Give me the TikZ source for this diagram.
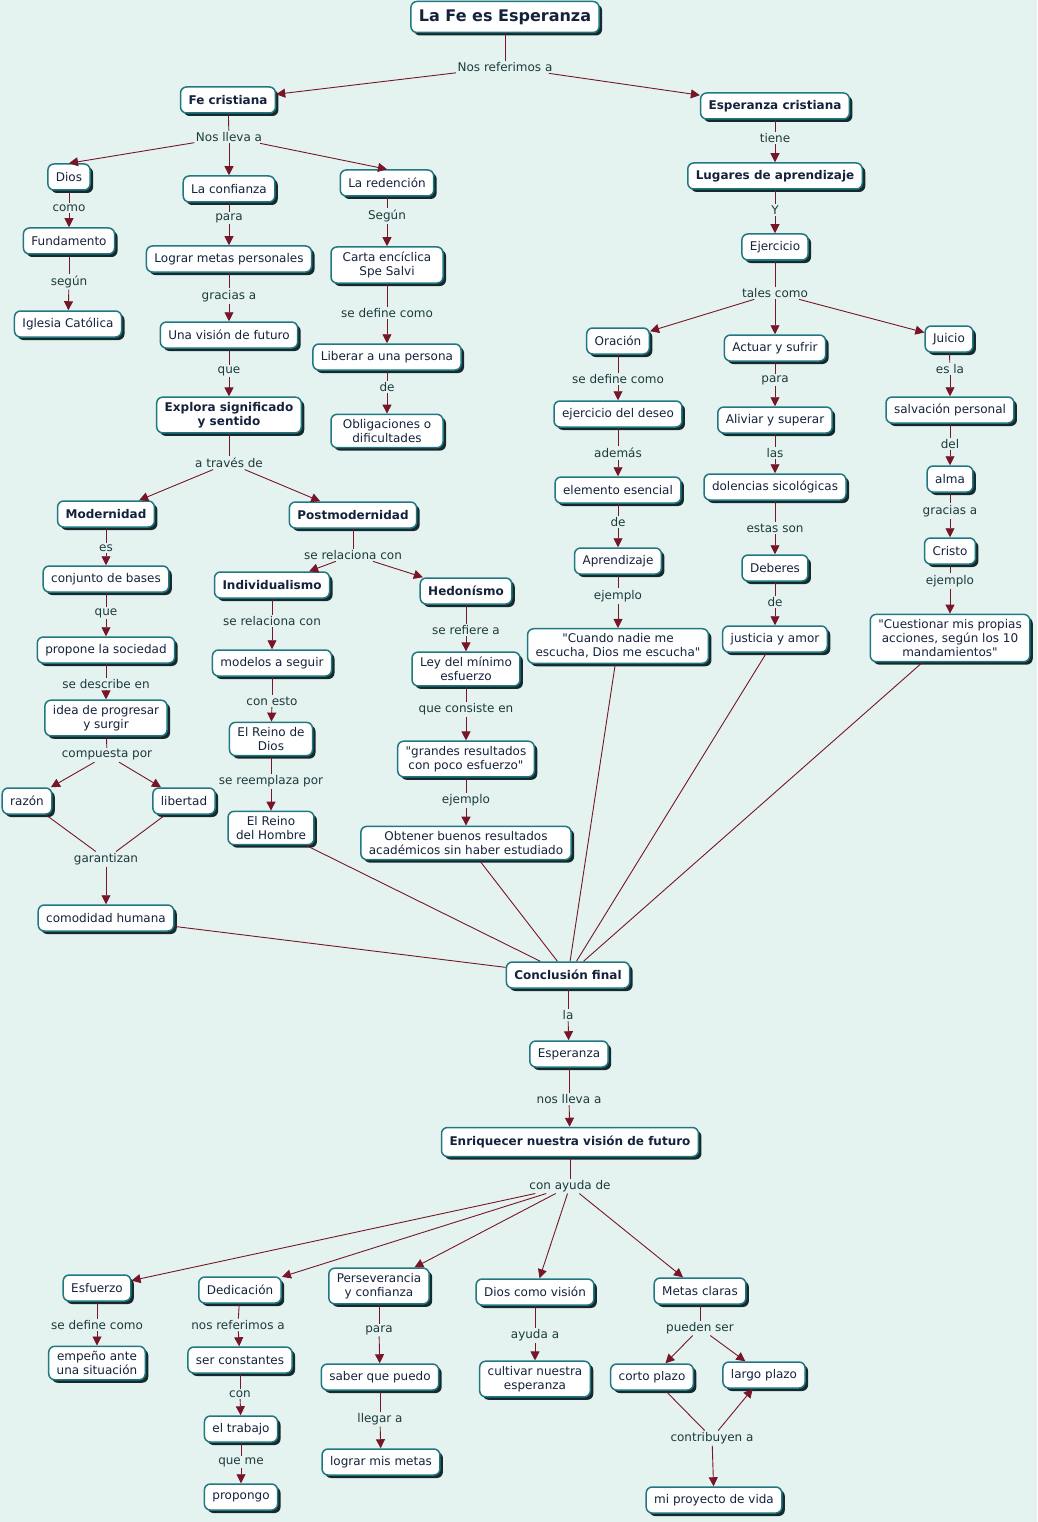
\documentclass[tikz,border=0pt]{standalone}
\usepackage{fontspec}
\setmainfont{DejaVu Sans}
\usetikzlibrary{arrows.meta,shadows}
\definecolor{bgc}{RGB}{229,243,240}
\definecolor{bordc}{RGB}{32,120,128}
\definecolor{shadc}{RGB}{22,42,46}
\definecolor{arrc}{RGB}{118,22,40}
\definecolor{txtc}{RGB}{20,34,60}
\definecolor{labc}{RGB}{28,58,60}
\font\plainq="DejaVu Sans" at 12pt
\newcommand{\qq}{{\plainq\char34}}
\tikzset{
  concept/.style={draw=bordc, line width=1.5pt, fill=white, rounded corners=6pt,
    text=txtc, font=\fontsize{12}{14}\selectfont, align=center,
    inner xsep=8pt, inner ysep=5pt, minimum height=26pt,
    drop shadow={shadow xshift=3pt, shadow yshift=-3pt, fill=shadc, opacity=1}},
  bconcept/.style={concept, font=\fontsize{12}{14}\selectfont\bfseries},
  lab/.style={fill=bgc, text=labc, font=\fontsize{12}{14}\selectfont, inner sep=1.5pt},
  conn/.style={draw=arrc, line width=0.9pt},
  arr/.style={conn, -{Triangle[length=9pt,width=9pt]}}
}
\begin{document}
\begin{tikzpicture}[x=1pt,y=-1pt]
\fill[bgc] (0,0) rectangle (1037,1522);
\useasboundingbox (0,0) rectangle (1037,1522);
% ---------- top ----------
\node[concept, font=\fontsize{16}{19}\selectfont\bfseries, minimum height=31pt] (title) at (505,17) {La Fe es Esperanza};
\node[lab] (l1) at (505,67) {Nos referimos a};
\node[bconcept] (fe) at (228,100) {Fe cristiana};
\node[bconcept] (espc) at (775,106) {Esperanza cristiana};
\node[lab] (l2) at (229,137) {Nos lleva a};
\node[lab] (l3) at (775,138) {tiene};
\node[concept] (dios) at (69,177) {Dios};
\node[concept] (confi) at (229,189) {La confianza};
\node[concept] (reden) at (387,183) {La redención};
\node[bconcept] (lugar) at (775,176) {Lugares de aprendizaje};
\node[lab] (l4) at (69,208) {como};
\node[concept] (funda) at (69,241) {Fundamento};
\node[lab] (l5) at (229,218) {para};
\node[lab] (l6) at (387,216) {Según};
\node[lab] (l7) at (775,210) {Y};
\node[concept] (lograr) at (229,259) {Lograr metas personales};
\node[concept, minimum width=112pt] (carta) at (387,265) {Carta encíclica\\Spe Salvi};
\node[concept] (ejer) at (775,247) {Ejercicio};
\node[lab] (l8) at (69,282) {según};
\node[lab] (l9) at (229,296) {gracias a};
\node[concept] (igle) at (68,324) {Iglesia Católica};
\node[concept] (vision) at (229,335) {Una visión de futuro};
\node[lab] (l10) at (387,313) {se define como};
\node[lab] (l11) at (775,293) {tales como};
\node[concept] (liber) at (387,357) {Liberar a una persona};
\node[concept] (orac) at (618,341) {Oración};
\node[concept] (actuar) at (775,348) {Actuar y sufrir};
\node[concept] (juicio) at (949,339) {Juicio};
\node[lab] (l12) at (229,371) {que};
\node[lab] (l13) at (387,387) {de};
\node[lab] (l14) at (618,379) {se define como};
\node[lab] (l15) at (775,380) {para};
\node[lab] (l16) at (950,369) {es la};
\node[bconcept] (explora) at (229,415) {Explora significado\\y sentido};
\node[concept, minimum width=112pt] (oblig) at (387,431) {Obligaciones o\\dificultades};
\node[concept] (deseo) at (618,414) {ejercicio del deseo};
\node[concept] (aliviar) at (775,420) {Aliviar y superar};
\node[concept] (salva) at (950,410) {salvación personal};
\node[lab] (l17) at (950,444) {del};
\node[lab] (l18) at (618,453) {además};
\node[lab] (l19) at (775,453) {las};
\node[lab] (l20) at (229,463) {a través de};
\node[concept] (elem) at (618,490) {elemento esencial};
\node[concept] (dolen) at (775,487) {dolencias sicológicas};
\node[concept] (alma) at (950,479) {alma};
\node[bconcept] (moder) at (106,514) {Modernidad};
\node[bconcept] (postm) at (353,515) {Postmodernidad};
\node[lab] (l21) at (950,511) {gracias a};
\node[lab] (l22) at (618,522) {de};
\node[lab] (l23) at (775,528) {estas son};
\node[lab] (l24) at (106,548) {es};
\node[lab] (l25) at (353,555) {se relaciona con};
\node[concept] (aprend) at (618,561) {Aprendizaje};
\node[concept] (deber) at (775,568) {Deberes};
\node[concept] (cristo) at (950,551) {Cristo};
\node[concept] (conjunto) at (106,579) {conjunto de bases};
\node[bconcept] (indiv) at (272,585) {Individualismo};
\node[bconcept] (hedon) at (466,591) {Hedonísmo};
\node[lab] (l26) at (950,581) {ejemplo};
\node[lab] (l27) at (618,596) {ejemplo};
\node[lab] (l28) at (775,602) {de};
\node[lab] (l29) at (106,613) {que};
\node[lab] (l30) at (272,621) {se relaciona con};
\node[lab] (l31) at (466,630) {se refiere a};
\node[concept] (cuando) at (618,646) {\qq Cuando nadie me\\escucha, Dios me escucha\qq};
\node[concept] (justi) at (775,639) {justicia y amor};
\node[concept] (cuest) at (950,638) {\qq Cuestionar mis propias\\acciones, según los 10\\mandamientos\qq};
\node[concept] (propone) at (106,650) {propone la sociedad};
\node[concept] (modelos) at (272,663) {modelos a seguir};
\node[concept] (ley) at (466,669) {Ley del mínimo\\esfuerzo};
\node[lab] (l32) at (106,684) {se describe en};
\node[lab] (l33) at (272,701) {con esto};
\node[lab] (l34) at (466,709) {que consiste en};
\node[concept] (idea) at (106,718) {idea de progresar\\y surgir};
\node[concept] (rdios) at (271,739) {El Reino de\\Dios};
\node[concept] (grandes) at (466,759) {\qq grandes resultados\\con poco esfuerzo\qq};
\node[lab] (l35) at (107,755) {compuesta por};
\node[lab] (l36) at (271,781) {se reemplaza por};
\node[lab] (l37) at (466,800) {ejemplo};
\node[concept] (razon) at (27,801) {razón};
\node[concept] (libert) at (184,801) {libertad};
\node[concept] (rhombre) at (271,828) {El Reino\\del Hombre};
\node[concept] (obtener) at (466,843) {Obtener buenos resultados\\académicos sin haber estudiado};
\node[lab] (l38) at (106,859) {garantizan};
\node[concept] (comod) at (106,918) {comodidad humana};
\node[bconcept] (concl) at (568,975) {Conclusión final};
\node[lab] (l39) at (568,1015) {la};
\node[concept] (esper) at (569,1054) {Esperanza};
\node[lab] (l40) at (569,1099) {nos lleva a};
\node[bconcept, minimum height=29pt] (enriq) at (570,1142) {Enriquecer nuestra visión de futuro};
\node[lab] (l41) at (570,1186) {con ayuda de};
\node[concept] (esfu) at (97,1288) {Esfuerzo};
\node[concept] (dedic) at (240,1290) {Dedicación};
\node[concept] (perse) at (379,1286) {Perseverancia\\y confianza};
\node[concept] (diosv) at (535,1292) {Dios como visión};
\node[concept] (metas) at (700,1291) {Metas claras};
\node[lab] (l42) at (97,1325) {se define como};
\node[lab] (l43) at (238,1325) {nos referimos a};
\node[lab] (l44) at (379,1330) {para};
\node[lab] (l45) at (535,1335) {ayuda a};
\node[lab] (l46) at (700,1328) {pueden ser};
\node[concept] (empeno) at (97,1363) {empeño ante\\una situación};
\node[concept] (constan) at (240,1360) {ser constantes};
\node[concept] (saber) at (380,1377) {saber que puedo};
\node[concept] (cultivar) at (535,1379) {cultivar nuestra\\esperanza};
\node[concept] (corto) at (652,1377) {corto plazo};
\node[concept] (largo) at (764,1375) {largo plazo};
\node[lab] (l47) at (240,1394) {con};
\node[lab] (l48) at (380,1419) {llegar a};
\node[lab] (l49) at (712,1438) {contribuyen a};
\node[concept] (trabajo) at (241,1429) {el trabajo};
\node[lab] (l50) at (241,1462) {que me};
\node[concept] (logmet) at (381,1462) {lograr mis metas};
\node[concept] (propongo) at (241,1497) {propongo};
\node[concept] (proyecto) at (714,1500) {mi proyecto de vida};
% ---------- connectors ----------
\draw[conn] (title) -- (l1);
\draw[arr] (l1) -- (fe);
\draw[arr] (l1) -- (espc);
\draw[conn] (fe) -- (l2);
\draw[arr] (l2) -- (dios.north);
\draw[arr] (l2) -- (confi);
\draw[arr] (l2) -- (reden.north);
\draw[conn] (espc) -- (l3);
\draw[arr] (l3) -- (lugar);
\draw[conn] (dios) -- (l4);
\draw[arr] (l4) -- (funda);
\draw[conn] (funda) -- (l8);
\draw[arr] (l8) -- (igle);
\draw[conn] (confi) -- (l5);
\draw[arr] (l5) -- (lograr);
\draw[conn] (lograr) -- (l9);
\draw[arr] (l9) -- (vision);
\draw[conn] (vision) -- (l12);
\draw[arr] (l12) -- (explora);
\draw[conn] (explora) -- (l20);
\draw[arr] (l20) -- (moder);
\draw[arr] (l20) -- (postm);
\draw[conn] (reden) -- (l6);
\draw[arr] (l6) -- (carta);
\draw[conn] (carta) -- (l10);
\draw[arr] (l10) -- (liber);
\draw[conn] (liber) -- (l13);
\draw[arr] (l13) -- (oblig);
\draw[conn] (lugar) -- (l7);
\draw[arr] (l7) -- (ejer);
\draw[conn] (ejer) -- (l11);
\draw[arr] (l11) -- (orac);
\draw[arr] (l11) -- (actuar);
\draw[arr] (l11) -- (juicio);
\draw[conn] (orac) -- (l14);
\draw[arr] (l14) -- (deseo);
\draw[conn] (deseo) -- (l18);
\draw[arr] (l18) -- (elem);
\draw[conn] (elem) -- (l22);
\draw[arr] (l22) -- (aprend);
\draw[conn] (aprend) -- (l27);
\draw[arr] (l27) -- (cuando);
\draw[conn] (actuar) -- (l15);
\draw[arr] (l15) -- (aliviar);
\draw[conn] (aliviar) -- (l19);
\draw[arr] (l19) -- (dolen);
\draw[conn] (dolen) -- (l23);
\draw[arr] (l23) -- (deber);
\draw[conn] (deber) -- (l28);
\draw[arr] (l28) -- (justi);
\draw[conn] (juicio) -- (l16);
\draw[arr] (l16) -- (salva);
\draw[conn] (salva) -- (l17);
\draw[arr] (l17) -- (alma);
\draw[conn] (alma) -- (l21);
\draw[arr] (l21) -- (cristo);
\draw[conn] (cristo) -- (l26);
\draw[arr] (l26) -- (cuest);
\draw[conn] (moder) -- (l24);
\draw[arr] (l24) -- (conjunto);
\draw[conn] (conjunto) -- (l29);
\draw[arr] (l29) -- (propone);
\draw[conn] (propone) -- (l32);
\draw[arr] (l32) -- (idea);
\draw[conn] (idea) -- (l35);
\draw[arr] (l35) -- (razon);
\draw[arr] (l35) -- (libert);
\draw[conn] (razon) -- (l38);
\draw[conn] (libert) -- (l38);
\draw[arr] (l38) -- (comod);
\draw[conn] (postm) -- (l25);
\draw[arr] (l25) -- (indiv);
\draw[arr] (l25) -- (hedon);
\draw[conn] (indiv) -- (l30);
\draw[arr] (l30) -- (modelos);
\draw[conn] (modelos) -- (l33);
\draw[arr] (l33) -- (rdios);
\draw[conn] (rdios) -- (l36);
\draw[arr] (l36) -- (rhombre);
\draw[conn] (hedon) -- (l31);
\draw[arr] (l31) -- (ley);
\draw[conn] (ley) -- (l34);
\draw[arr] (l34) -- (grandes);
\draw[conn] (grandes) -- (l37);
\draw[arr] (l37) -- (obtener);
% into conclusion
\draw[conn] (comod) -- (concl);
\draw[conn] (rhombre) -- (concl);
\draw[conn] (obtener) -- (concl);
\draw[conn] (cuando) -- (concl);
\draw[conn] (justi) -- (concl);
\draw[conn] (cuest) -- (concl);
% bottom part
\draw[conn] (concl) -- (l39);
\draw[arr] (l39) -- (esper);
\draw[conn] (esper) -- (l40);
\draw[arr] (l40) -- (enriq);
\draw[conn] (enriq) -- (l41);
\draw[arr] (l41) -- (esfu);
\draw[arr] (l41) -- (dedic);
\draw[arr] (l41) -- (perse);
\draw[arr] (l41) -- (diosv);
\draw[arr] (l41) -- (metas);
\draw[conn] (esfu) -- (l42);
\draw[arr] (l42) -- (empeno);
\draw[conn] (dedic) -- (l43);
\draw[arr] (l43) -- (constan);
\draw[conn] (constan) -- (l47);
\draw[arr] (l47) -- (trabajo);
\draw[conn] (trabajo) -- (l50);
\draw[arr] (l50) -- (propongo);
\draw[conn] (perse) -- (l44);
\draw[arr] (l44) -- (saber);
\draw[conn] (saber) -- (l48);
\draw[arr] (l48) -- (logmet);
\draw[conn] (diosv) -- (l45);
\draw[arr] (l45) -- (cultivar);
\draw[conn] (metas) -- (l46);
\draw[arr] (l46) -- (corto);
\draw[arr] (l46) -- (largo);
\draw[conn] (corto) -- (l49);
\draw[arr] (l49) -- (largo);
\draw[arr] (l49) -- (proyecto);
\end{tikzpicture}
\end{document}
